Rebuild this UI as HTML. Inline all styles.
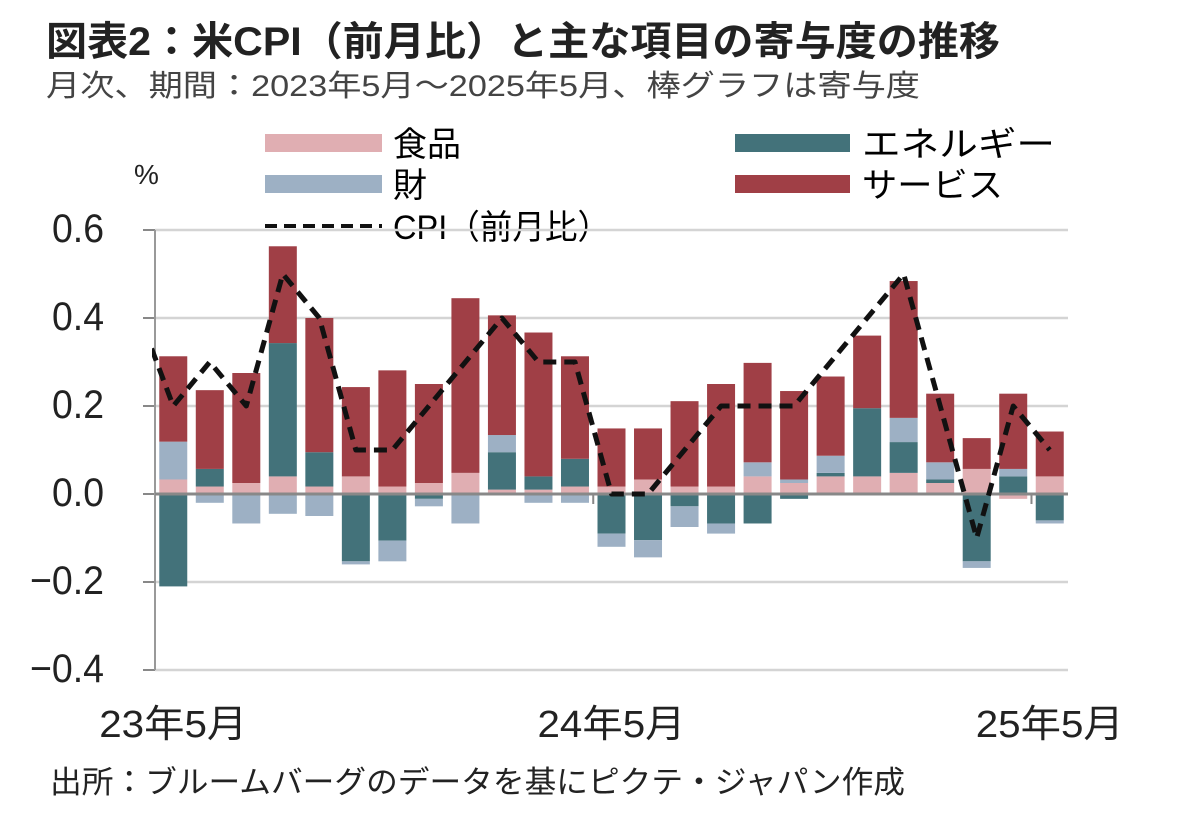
<!DOCTYPE html>
<html><head><meta charset="utf-8"><style>
body{margin:0;background:#fff;width:1182px;height:826px;overflow:hidden;font-family:"Liberation Sans","Noto Sans CJK JP",sans-serif;color:#222}
svg text{font-family:"Liberation Sans","Noto Sans CJK JP",sans-serif}
</style></head><body>
<svg width="1182" height="826">
<text x="46" y="55" font-size="40" font-weight="bold" fill="#222" textLength="954" lengthAdjust="spacingAndGlyphs">図表2：米CPI（前月比）と主な項目の寄与度の推移</text>
<text x="46" y="96" font-size="30" fill="#444" textLength="874" lengthAdjust="spacingAndGlyphs">月次、期間：2023年5月～2025年5月、棒グラフは寄与度</text>
<text x="134" y="184" font-size="28" fill="#222">%</text>
<g id="legend">
<rect x="265" y="134" width="117" height="18" fill="#e0aeb2"/>
<text x="393" y="156" font-size="34">食品</text>
<rect x="265" y="175" width="117" height="18" fill="#9db0c4"/>
<text x="393" y="197" font-size="34">財</text>
<line x1="265" y1="226" x2="382" y2="226" stroke="#111" stroke-width="4" stroke-dasharray="12,7"/>
<text x="393" y="239" font-size="34" textLength="217" lengthAdjust="spacingAndGlyphs">CPI（前月比）</text>
<rect x="735" y="134" width="115" height="18" fill="#43727a"/>
<text x="862" y="156" font-size="34" textLength="193" lengthAdjust="spacingAndGlyphs">エネルギー</text>
<rect x="735" y="175" width="115" height="18" fill="#a03f46"/>
<text x="862" y="197" font-size="34" textLength="141" lengthAdjust="spacingAndGlyphs">サービス</text>
</g>
<g id="grid"></g><g id="bars"></g><g id="axes"></g><g id="line"></g>
<text x="50" y="793" font-size="31" fill="#222" textLength="855" lengthAdjust="spacingAndGlyphs">出所：ブルームバーグのデータを基にピクテ・ジャパン作成</text>
</svg>
<script>
const categories=["23年5月","23年6月","23年7月","23年8月","23年9月","23年10月","23年11月","23年12月","24年1月","24年2月","24年3月","24年4月","24年5月","24年6月","24年7月","24年8月","24年9月","24年10月","24年11月","24年12月","25年1月","25年2月","25年3月","25年4月","25年5月"];
const food=[0.033,0.017,0.025,0.04,0.017,0.04,0.017,0.025,0.048,0.01,0.01,0.017,0.017,0.033,0.017,0.017,0.04,0.025,0.04,0.04,0.048,0.025,0.057,-0.011,0.04];
const energy=[-0.21,0.04,0,0.303,0.078,-0.153,-0.106,-0.011,0,0.085,0.03,0.063,-0.09,-0.105,-0.028,-0.067,-0.067,-0.011,0.008,0.155,0.07,0.008,-0.153,0.04,-0.06];
const goods=[0.086,-0.02,-0.067,-0.045,-0.05,-0.007,-0.047,-0.017,-0.067,0.039,-0.02,-0.02,-0.03,-0.039,-0.047,-0.023,0.032,0.008,0.039,0,0.055,0.039,-0.015,0.017,-0.007];
const services=[0.194,0.179,0.25,0.22,0.305,0.203,0.264,0.225,0.397,0.272,0.327,0.233,0.132,0.116,0.194,0.233,0.226,0.201,0.18,0.165,0.311,0.156,0.07,0.171,0.102];
const cpiPrev=0.42;
const cpi=[0.2,0.3,0.2,0.5,0.4,0.1,0.1,0.2,0.3,0.4,0.3,0.3,0,0,0.1,0.2,0.2,0.2,0.3,0.4,0.5,0.2,-0.1,0.2,0.1];
const yTicks=[0.6,0.4,0.2,0.0,-0.2,-0.4];
const yTickLabels=["0.6","0.4","0.2","0.0","−0.2","−0.4"];
const xLabelIdx=[0,12,24];

const NS="http://www.w3.org/2000/svg";
const X0=155,X1=1068,step=(X1-X0)/categories.length,bw=28;
const y=v=>494-v*440;
const xc=i=>X0+step*(i+0.5);
function mk(t,a,p){const e=document.createElementNS(NS,t);for(const k in a)e.setAttribute(k,a[k]);p.appendChild(e);return e;}
const grid=document.getElementById('grid'),bars=document.getElementById('bars'),axes=document.getElementById('axes'),lineG=document.getElementById('line');
yTicks.forEach((v,i)=>{
  if(v!==0){const g=mk('line',{x1:X0,x2:X1,y1:y(v),y2:y(v),stroke:'#d4d4d4','stroke-width':2.5},grid);
  
  }
  const tk=mk('line',{x1:X0-12,x2:X0,y1:y(v),y2:y(v),stroke:'#888','stroke-width':2},axes);
  
  
  const lab=yTickLabels[i];
  const t=mk('text',{x:104,y:y(v)+12,'font-size':40,'text-anchor':'end',fill:'#222',textLength:lab.length>3?74:52,lengthAdjust:'spacingAndGlyphs'},axes);t.textContent=lab;
  
  
});
const series=[[food,'#e0aeb2','food'],[energy,'#43727a','energy'],[goods,'#9db0c4','goods'],[services,'#a03f46','services']];
categories.forEach((c,i)=>{
  let pos=0,neg=0;
  series.forEach(([arr,col,nm])=>{
    const v=arr[i];if(!v)return;
    let a,b;if(v>0){a=pos;b=pos+v;pos=b;}else{a=neg;b=neg+v;neg=b;}
    const r=mk('rect',{x:xc(i)-bw/2,width:bw,y:Math.min(y(a),y(b)),height:Math.abs(y(a)-y(b)),fill:col},bars);
    
    
  });
});
const ax=mk('line',{x1:X0,x2:X0,y1:230,y2:670,stroke:'#999','stroke-width':2},axes);


const zx=mk('line',{x1:X0,x2:X1,y1:y(0),y2:y(0),stroke:'#888','stroke-width':3},axes);


[12,24].forEach(k=>{const tk=mk('line',{x1:X0+step*k,x2:X0+step*k,y1:y(0),y2:y(0)+10,stroke:'#888','stroke-width':2},axes);

});
xLabelIdx.forEach(i=>{const t=mk('text',{x:xc(i),y:737,'font-size':38,'text-anchor':'middle',fill:'#222',textLength:148,lengthAdjust:'spacingAndGlyphs'},axes);t.textContent=categories[i];

});
const clip=mk('clipPath',{id:'cl'},lineG);mk('rect',{x:X0-3,y:0,width:X1-X0+10,height:826},clip);
let d='M'+(xc(-1))+','+y(cpiPrev);cpi.forEach((v,i)=>d+=' L'+xc(i)+','+y(v));
const p=mk('path',{d:d,fill:'none',stroke:'#111','stroke-width':5,'stroke-dasharray':'13,8','clip-path':'url(#cl)','stroke-linejoin':'round'},lineG);


</script>
</body></html>
